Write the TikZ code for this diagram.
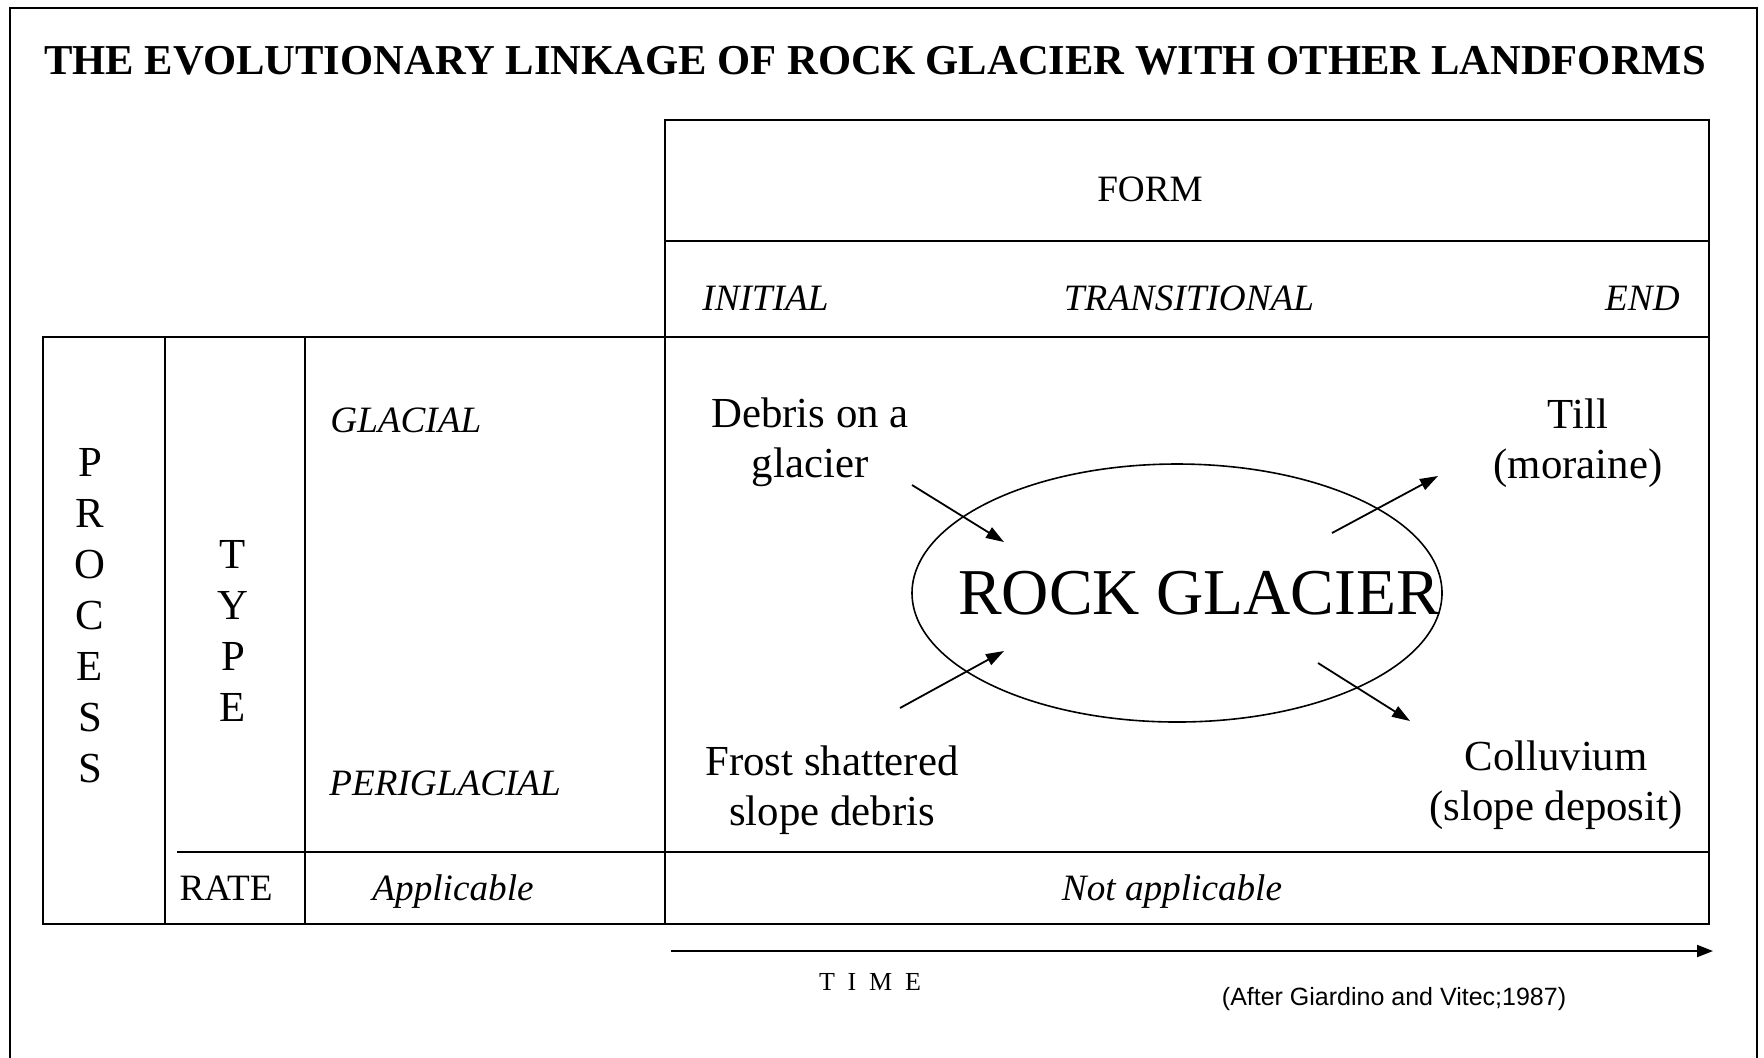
\documentclass[tikz,border=0pt]{standalone}
\usepackage{fontspec}
\setmainfont{Liberation Serif}
\newfontfamily\notefont{Liberation Sans}
\usepackage{tikz}
\usetikzlibrary{arrows.meta,positioning,shapes.geometric}
\tikzset{
  tabline/.style={line width=1.1pt, draw=black},
  frameline/.style={line width=1pt, draw=black},
  headtitle/.style={font=\fontsize{21.3}{25}\selectfont\bfseries, inner sep=0pt},
  head/.style={font=\fontsize{18.6}{22}\selectfont, inner sep=0pt},
  phase/.style={font=\fontsize{18.6}{22}\selectfont\itshape, inner sep=0pt},
  landform/.style={align=center, font=\fontsize{21.4}{25}\selectfont, inner sep=0pt},
  vword/.style={align=center, font=\fontsize{21.4}{25.5}\selectfont, inner sep=0pt},
  blob/.style={draw, ellipse, line width=0.8pt, inner sep=0pt, minimum width=265pt, minimum height=129pt},
  arrow/.style={-{Triangle[length=9pt,width=6pt]}, line width=0.9pt},
  timearrow/.style={-{Triangle[length=8pt,width=6pt]}, line width=1pt}
}

\begin{document}
\begin{tikzpicture}[x=0.5pt, y=-0.5pt]
  \useasboundingbox (0,0) rectangle (1764,1057);
  \draw[frameline] (10,1080) -- (10,8) -- (1757,8) -- (1757,1080);

  \node[headtitle, anchor=base] (title) at (875,74) {THE EVOLUTIONARY LINKAGE OF ROCK GLACIER WITH OTHER LANDFORMS};

  % form header
  \draw[tabline] (665,120) rectangle (1709,337);
  \draw[tabline] (665,241) -- (1709,241);
  \node[head, anchor=base] (form) at (1150,201) {FORM};
  \node[phase, anchor=base west] (initial) at (702,310) {INITIAL};
  \node[phase, anchor=base] (transitional) at (1189,310) {TRANSITIONAL};
  \node[phase, anchor=base east] (end) at (1680,310) {END};

  % process table
  \draw[tabline] (43,337) rectangle (1709,924);
  \draw[tabline] (165,337) -- (165,924);
  \draw[tabline] (305,337) -- (305,924);
  \draw[tabline] (665,337) -- (665,924);
  \draw[tabline] (177,852) -- (1709,852);

  \node[vword, anchor=base] (process) at (90,782) {P\\R\\O\\C\\E\\S\\S};
  \node[vword, anchor=base] (type) at (233,721) {T\\Y\\P\\E};
  \node[phase, anchor=base west] (glacial) at (330,432) {GLACIAL};
  \node[phase, anchor=base west] (periglacial) at (329,795) {PERIGLACIAL};
  \node[head, anchor=base] (rate) at (226,900) {RATE};
  \node[phase, anchor=base] (applicable) at (453,900) {Applicable};
  \node[phase, anchor=base] (notapplicable) at (1172,900) {Not applicable};

  % landforms
  \node[landform, anchor=base] (debris) at (810,477) {Debris on a\\glacier};
  \node[landform, anchor=base] (till) at (1578,478) {Till\\(moraine)};
  \node[landform, anchor=base] (frost) at (832,825) {Frost shattered\\slope debris};
  \node[landform, anchor=base] (colluvium) at (1556,820) {Colluvium\\(slope deposit)};

  \node[blob] (rgshape) at (1177,593) {};
  \node[font=\fontsize{32.7}{36}\selectfont, inner sep=0pt, anchor=base] (rglabel) at (1199,614) {ROCK GLACIER};

  \coordinate (debrisout) at (912,485);
  \coordinate (debrisin) at (1004,542);
  \coordinate (frostout) at (900,708);
  \coordinate (frostin) at (1004,651);
  \coordinate (tillout) at (1332,533);
  \coordinate (tillin) at (1438,476);
  \coordinate (collout) at (1318,663);
  \coordinate (collin) at (1410,721);
  \draw[arrow] (debrisout) -- (debrisin);
  \draw[arrow] (frostout) -- (frostin);
  \draw[arrow] (tillout) -- (tillin);
  \draw[arrow] (collout) -- (collin);

  % time axis
  \coordinate (tstart) at (671,951);
  \coordinate (tend) at (1713,951);
  \draw[timearrow] (tstart) -- (tend);
  \node[font=\fontsize{13}{15}\selectfont, inner sep=0pt, anchor=base] (time) at (870,990) {T\hspace{6.4pt}I\hspace{6.4pt}M\hspace{6.4pt}E};
  \node[font=\notefont\fontsize{12.5}{14}\selectfont, inner sep=0pt, anchor=base] (source) at (1394,1005) {(After Giardino and Vitec;1987)};
\end{tikzpicture}
\end{document}
